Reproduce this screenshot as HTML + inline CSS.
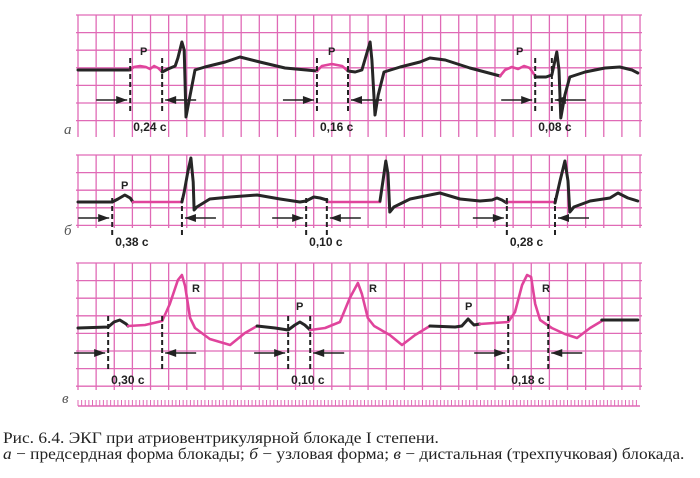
<!DOCTYPE html>
<html><head><meta charset="utf-8"><style>
html,body{margin:0;padding:0;background:#fff;}
#wrap{position:relative;width:700px;height:478px;overflow:hidden;}
.cap{position:absolute;left:3px;font-family:"Liberation Serif",serif;font-size:16px;line-height:17px;color:#222;white-space:nowrap;transform:scaleX(1.085);transform-origin:0 0;}
</style></head><body>
<div id="wrap">
<svg id="ecg" width="700" height="478"></svg>
<div class="cap" style="top:430px">Рис. 6.4. ЭКГ при атриовентрикулярной блокаде I степени.</div>
<div class="cap" style="top:446px"><i>а</i> − предсердная форма блокады; <i>б</i> − узловая форма; <i>в</i> − дистальная (трехпучковая) блокада.</div>
</div>
<script>
// Strip a data (time s, amplitude mV)
const aColors=["k","p","k","p","k","p","k"];
const aT=[[0,0.116],[0.116,0.124,0.138,0.151,0.16,0.169,0.178,0.187],[0.187,0.2,0.216,0.222,0.231,0.236,0.24,0.247,0.26,0.282,0.327,0.36,0.404,0.46,0.531],[0.531,0.542,0.564,0.587,0.6],[0.6,0.616,0.631,0.64,0.649,0.653,0.66,0.667,0.68,0.716,0.76,0.782,0.816,0.871,0.938],[0.938,0.949,0.964,0.978,0.991,1.004,1.016],[1.016,1.04,1.053,1.064,1.069,1.073,1.082,1.093,1.127,1.171,1.204,1.231,1.244]];
const aV=[[0,0],[0,0.086,0.114,0.086,0.029,0.114,0.057,-0.057],[-0.057,0.029,0.114,0.343,0.8,0.571,-1.343,-0.857,0,0.086,0.229,0.371,0.229,0.057,-0.029],[-0.029,0.114,0.171,0.114,-0.029],[-0.029,-0.057,0,0.4,0.8,0.286,-1.286,-0.714,-0.057,0.086,0.229,0.343,0.286,0.057,-0.171],[-0.171,0,0.086,0.029,0.114,0.057,-0.171],[-0.2,-0.2,-0.143,0.514,0,-1.371,-0.714,-0.2,-0.057,0.057,0.086,0,-0.086]];
// Strip b
const bColors=["k","k","p","k","p","k","p","k"];
const bT=[[0,0.076],[0.076,0.089,0.104,0.116,0.122],[0.122,0.231],[0.231,0.236,0.244,0.251,0.256,0.258,0.264,0.293,0.338,0.398,0.449,0.493,0.507,0.524,0.538,0.553],[0.553,0.671],[0.671,0.678,0.684,0.689,0.693,0.702,0.738,0.804,0.849,0.893,0.92,0.931,0.942,0.953],[0.953,1.06],[1.06,1.071,1.082,1.089,1.093,1.102,1.138,1.182,1.2,1.222,1.244]];
const bV=[[0,0],[0,0.086,0.2,0.114,0],[0,0],[0,0.286,0.857,1.257,0.571,-0.229,-0.143,0.086,0.143,0.2,0.086,0,0.029,0.143,0.114,0.057],[0,0],[0.029,0.629,1.171,0.8,-0.286,-0.143,0.086,0.257,0.086,0.029,0.057,0.114,0.057,-0.029],[0,0],[-0.029,0.6,1.171,0.6,-0.286,-0.143,0.029,0.114,0.257,0.114,0.029]];
// Strip c
const cColors=["k","p","k","p","k","p","k"];
const cT=[[0,0.067,0.08,0.093,0.107,0.111],[0.111,0.149,0.187,0.204,0.222,0.231,0.238,0.249,0.26,0.293,0.338,0.371,0.398],[0.398,0.438,0.467,0.482,0.493,0.504,0.516],[0.516,0.549,0.582,0.604,0.622,0.631,0.644,0.658,0.693,0.72,0.749,0.782],[0.782,0.838,0.853,0.867,0.88,0.893],[0.893,0.956,0.971,0.987,0.998,1.007,1.016,1.027,1.053,1.082,1.109,1.138,1.164],[1.164,1.244]];
const cV=[[0,0.029,0.171,0.229,0.114,0.057],[0.057,0.086,0.2,0.686,1.371,1.514,1.2,0.286,0,-0.314,-0.486,-0.143,0.057],[0.057,0,-0.057,0.086,0.171,0.086,-0.057],[-0.057,0,0.171,0.857,1.286,0.971,0.286,0.057,-0.2,-0.486,-0.2,0.057],[0.057,0.029,0.057,0.257,0.086,0.114],[0.114,0.171,0.457,1.229,1.514,1.457,0.686,0.229,0,-0.171,-0.286,0,0.2],[0.229,0.229]];
// Interval markers (s) and labels
const aIntervals=[[0.116,0.187],[0.531,0.6],[1.016,1.053]];
const aLabels=["0,24 с","0,16 с","0,08 с"];
const bIntervals=[[0.076,0.231],[0.507,0.553],[0.953,1.06]];
const bLabels=["0,38 с","0,10 с","0,28 с"];
const cIntervals=[[0.067,0.187],[0.467,0.516],[0.956,1.045]];
const cLabels=["0,30 с","0,10 с","0,18 с"];

const NS="http://www.w3.org/2000/svg";
const svg=document.getElementById('ecg');
const X0=78, PXS=450;
function xs(t){return X0+t*PXS;}
function mk(tag,attrs){const e=document.createElementNS(NS,tag);for(const k in attrs)e.setAttribute(k,attrs[k]);svg.appendChild(e);return e;}
const GRID="#e06ab6";
function grid(top,bottom,name){
  for(let k=0;k<=31;k++){const x=X0+k*18.13;const l=mk('line',{x1:x,x2:x,y1:top,y2:bottom,stroke:GRID,'stroke-width':1.3});
    
    }
  for(let y=top;y<=bottom+0.5;y+=17.6){const l=mk('line',{x1:X0-2,x2:642,y1:y,y2:y,stroke:GRID,'stroke-width':1.3});
    
    }
}
grid(15,137,'grid-a');grid(155,228,'grid-b');grid(263,390,'grid-c');
const rl=mk('line',{x1:X0,x2:640,y1:406,y2:406,stroke:GRID,'stroke-width':1.5});


for(let x=X0;x<=640;x+=3.626){const t=mk('line',{x1:x,x2:x,y1:400,y2:406,stroke:GRID,'stroke-width':1});
  
  }

function trace(T,V,C,base,name){
  for(let i=0;i<T.length;i++){
    const d=T[i].map((t,j)=>(j?'L':'M')+xs(t).toFixed(1)+','+(base-V[i][j]*35).toFixed(1)).join(' ');
    const p=mk('path',{d:d,fill:'none',stroke:C[i]==='k'?'#262626':'#e0449c','stroke-width':C[i]==='k'?3:2.6,'stroke-linejoin':'round','stroke-linecap':'round'});
    
    
  }
}
trace(aT,aV,aColors,70,'trace-a');trace(bT,bV,bColors,202,'trace-b');trace(cT,cV,cColors,328,'trace-c');

function arrow(x1,x2,y,name){
  const l=mk('line',{x1:x1,x2:x2,y1:y,y2:y,stroke:'#222','stroke-width':1.6});
  
  
  const dir=x2>x1?1:-1;
  const h=mk('polygon',{points:`${x2},${y} ${x2-dir*11},${y-4} ${x2-dir*11},${y+4}`,fill:'#222'});
  
  
}
function intervals(I,L,y1,y2,ay,ly,name){
  I.forEach((iv,i)=>{
    iv.forEach(t=>{const d=mk('line',{x1:xs(t),x2:xs(t),y1:y1,y2:y2,stroke:'#222','stroke-width':2,'stroke-dasharray':'5,3'});
      
      });
    arrow(xs(iv[0])-34,xs(iv[0])-3,ay,name+'-arrow-in');
    arrow(xs(iv[1])+34,xs(iv[1])+3,ay,name+'-arrow-out');
    const tx=mk('text',{x:xs(iv[0])+3,y:ly,'font-family':'Liberation Sans, sans-serif','font-size':12,'font-weight':'bold',fill:'#222'});
    tx.textContent=L[i];
    
    
  });
}
intervals(aIntervals,aLabels,58,114,100,131,'strip-a');
intervals(bIntervals,bLabels,198,235,218,246,'strip-b');
intervals(cIntervals,cLabels,316,372,353,384,'strip-c');

function label(txt,x,y,name,opts){
  const t=mk('text',Object.assign({x:x,y:y,'font-family':'Liberation Sans, sans-serif','font-size':11,'font-weight':'bold',fill:'#222'},opts||{}));
  t.textContent=txt;
  
  
}
label('P',140,55,'p-label');label('P',328,55,'p-label');label('P',516,55,'p-label');
label('P',121,189,'p-label');
label('P',296,310,'p-label');label('P',465,310,'p-label');
label('R',192,292,'r-label');label('R',369,292,'r-label');label('R',542,292,'r-label');
const it={'font-family':'Liberation Serif, serif','font-size':15,'font-weight':'normal','font-style':'italic',fill:'#555'};
label('а',64,134,'strip-a-letter',it);label('б',64,235,'strip-b-letter',it);label('в',62,403,'strip-c-letter',it);
</script>
</body></html>
